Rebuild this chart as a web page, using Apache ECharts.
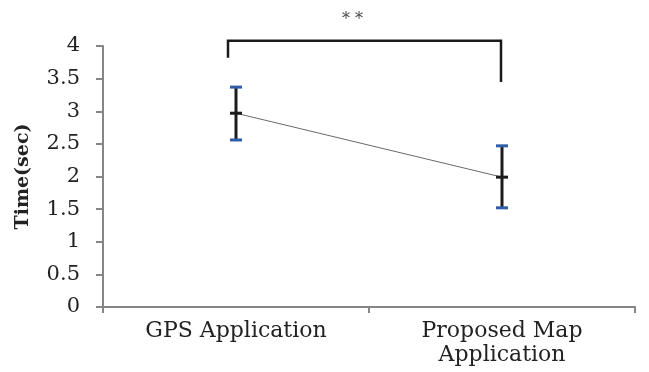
<!DOCTYPE html>
<html>
<head>
<meta charset="utf-8">
<script src="https://cdn.jsdelivr.net/npm/echarts@6/dist/echarts.min.js"></script>
<style>html,body{margin:0;padding:0;background:#fff}#c{width:649px;height:372px}</style>
</head>
<body>
<div id="c"></div>
<script>
var categories = ['GPS Application', 'Proposed Map\nApplication'];
var means = [2.97, 1.99];
var lowers = [2.56, 1.52];
var uppers = [3.37, 2.47];
var yTicks = [0, 0.5, 1, 1.5, 2, 2.5, 3, 3.5, 4];
var bracketTop = 4.08;
var bracketLeftEnd = 3.82;
var bracketRightEnd = 3.45;
var bracketLabelY = 4.43;
var bracketLabel = '* *';

var FONT = 'DejaVu Serif';
var chart = echarts.init(document.getElementById('c'), null, {renderer: 'canvas'});

var errData = categories.map(function (c, i) { return [i, lowers[i], uppers[i], means[i]]; });

chart.setOption({
  animation: false,
  backgroundColor: '#fff',
  grid: {left: 103, right: 14, top: 46, bottom: 65},
  xAxis: {
    type: 'category',
    data: categories,
    boundaryGap: true,
    axisLine: {lineStyle: {color: '#868686', width: 2}},
    axisTick: {show: true, length: 6, lineStyle: {color: '#868686', width: 2}},
    axisLabel: {fontFamily: FONT, fontSize: 22, color: '#222', margin: 12, lineHeight: 24, interval: 0}
  },
  yAxis: {
    type: 'value',
    min: yTicks[0],
    max: yTicks[yTicks.length - 1],
    interval: yTicks[1] - yTicks[0],
    name: 'Time(sec)',
    nameLocation: 'middle',
    nameGap: 70,
    nameTextStyle: {fontFamily: FONT, fontSize: 19, fontWeight: 'bold', color: '#222'},
    splitLine: {show: false},
    axisLine: {show: true, lineStyle: {color: '#868686', width: 2}},
    axisTick: {show: true, length: 7, lineStyle: {color: '#868686', width: 2}},
    axisLabel: {fontFamily: FONT, fontSize: 21, color: '#222', margin: 23,
      formatter: function (v) { return String(v); }}
  },
  series: [
    {
      type: 'line',
      data: means,
      symbol: 'none',
      lineStyle: {color: '#6a6a6a', width: 1},
      z: 2
    },
    {
      type: 'custom',
      data: errData,
      z: 3,
      renderItem: function (params, api) {
        var x = api.value(0);
        var lo = api.coord([x, api.value(1)]);
        var hi = api.coord([x, api.value(2)]);
        var mid = api.coord([x, api.value(3)]);
        var hw = 6;
        return {
          type: 'group',
          children: [
            {type: 'line', shape: {x1: lo[0], y1: lo[1], x2: hi[0], y2: hi[1]}, style: {stroke: '#1c1c1c', lineWidth: 3}},
            {type: 'line', shape: {x1: mid[0] - hw, y1: mid[1], x2: mid[0] + hw, y2: mid[1]}, style: {stroke: '#1c1c1c', lineWidth: 3}},
            {type: 'line', shape: {x1: hi[0] - hw, y1: hi[1], x2: hi[0] + hw, y2: hi[1]}, style: {stroke: '#2f5da8', lineWidth: 3}},
            {type: 'line', shape: {x1: lo[0] - hw, y1: lo[1], x2: lo[0] + hw, y2: lo[1]}, style: {stroke: '#2f5da8', lineWidth: 3}}
          ]
        };
      }
    },
    {
      type: 'custom',
      data: [[0, 1]],
      clip: false,
      z: 4,
      renderItem: function (params, api) {
        var l0 = api.coord([0, bracketLeftEnd]);
        var lt = api.coord([0, bracketTop]);
        var r0 = api.coord([1, bracketRightEnd]);
        var rt = api.coord([1, bracketTop]);
        var lab = api.coord([0, bracketLabelY]);
        var lx = l0[0] - 8;
        var rx = r0[0] - 1;
        return {
          type: 'group',
          children: [
            {type: 'polyline', shape: {points: [[lx, l0[1]], [lx, lt[1]], [rx, rt[1]], [rx, r0[1]]]},
              style: {stroke: '#1a1a1a', lineWidth: 2.5, fill: null}},
            {type: 'text', style: {text: bracketLabel, x: (lx + rx) / 2 - 12, y: lab[1] + 2, align: 'center', verticalAlign: 'middle',
              font: '16px "' + FONT + '"', fill: '#444'}}
          ]
        };
      }
    }
  ]
});
</script>
</body>
</html>
